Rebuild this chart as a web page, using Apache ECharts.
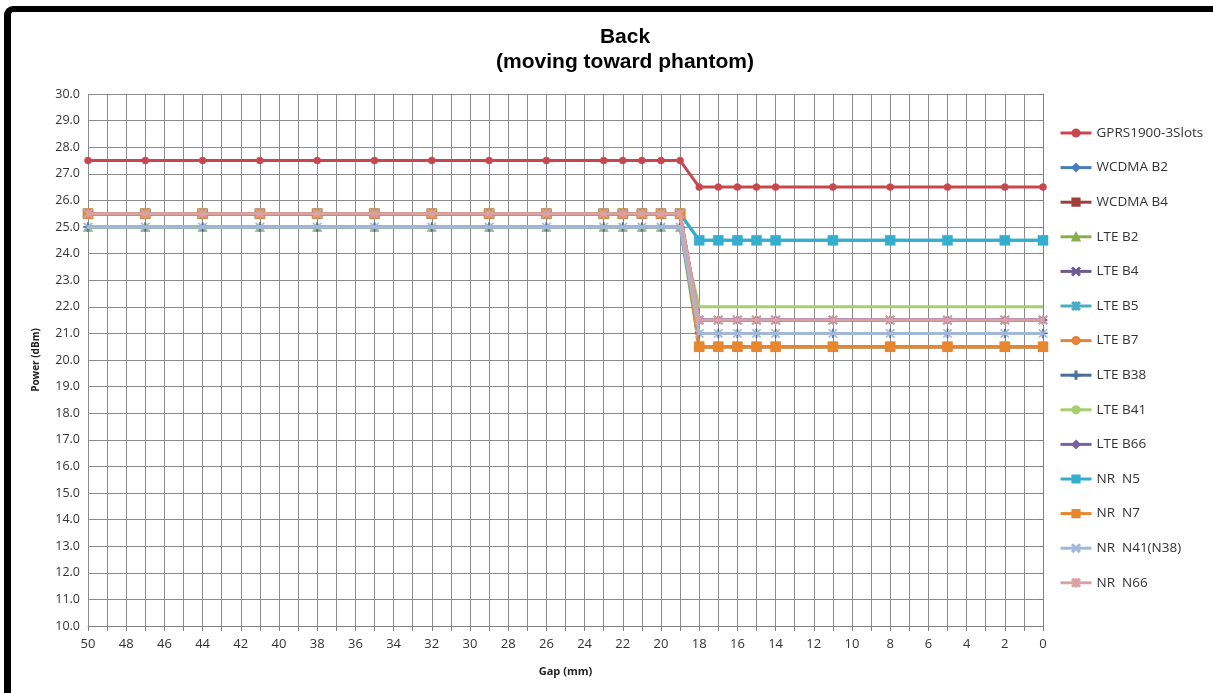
<!DOCTYPE html>
<html>
<head>
<meta charset="utf-8">
<script src="https://cdn.jsdelivr.net/npm/echarts@6/dist/echarts.min.js"></script>
<style>
  html, body { margin: 0; padding: 0; background: #fff; overflow: hidden; }
  #frame { position: absolute; left: 4px; top: 6px; width: 1240px; height: 720px;
           border-top: 6px solid #000; border-left: 7px solid #000; border-top-left-radius: 9px; box-sizing: border-box; }
  #chart { position: absolute; left: 0; top: 0; width: 1213px; height: 693px; }
</style>
</head>
<body>
<div id="frame"></div>
<div id="chart"></div>
<script>
// Gap positions (mm)
const gaps = [50, 47, 44, 41, 38, 35, 32, 29, 26, 23, 22, 21, 20, 19, 18, 17, 16, 15, 14, 11, 8, 5, 2, 0];

// Series values (dBm) for each gap
const gprs1900   = [27.5, 27.5, 27.5, 27.5, 27.5, 27.5, 27.5, 27.5, 27.5, 27.5, 27.5, 27.5, 27.5, 27.5, 26.5, 26.5, 26.5, 26.5, 26.5, 26.5, 26.5, 26.5, 26.5, 26.5];
const wcdmaB2    = [25.5, 25.5, 25.5, 25.5, 25.5, 25.5, 25.5, 25.5, 25.5, 25.5, 25.5, 25.5, 25.5, 25.5, 20.5, 20.5, 20.5, 20.5, 20.5, 20.5, 20.5, 20.5, 20.5, 20.5];
const wcdmaB4    = [25.5, 25.5, 25.5, 25.5, 25.5, 25.5, 25.5, 25.5, 25.5, 25.5, 25.5, 25.5, 25.5, 25.5, 20.5, 20.5, 20.5, 20.5, 20.5, 20.5, 20.5, 20.5, 20.5, 20.5];
const lteB2      = [25.0, 25.0, 25.0, 25.0, 25.0, 25.0, 25.0, 25.0, 25.0, 25.0, 25.0, 25.0, 25.0, 25.0, 20.5, 20.5, 20.5, 20.5, 20.5, 20.5, 20.5, 20.5, 20.5, 20.5];
const lteB4      = [25.5, 25.5, 25.5, 25.5, 25.5, 25.5, 25.5, 25.5, 25.5, 25.5, 25.5, 25.5, 25.5, 25.5, 21.5, 21.5, 21.5, 21.5, 21.5, 21.5, 21.5, 21.5, 21.5, 21.5];
const lteB5      = [25.5, 25.5, 25.5, 25.5, 25.5, 25.5, 25.5, 25.5, 25.5, 25.5, 25.5, 25.5, 25.5, 25.5, 24.5, 24.5, 24.5, 24.5, 24.5, 24.5, 24.5, 24.5, 24.5, 24.5];
const lteB7      = [25.5, 25.5, 25.5, 25.5, 25.5, 25.5, 25.5, 25.5, 25.5, 25.5, 25.5, 25.5, 25.5, 25.5, 20.5, 20.5, 20.5, 20.5, 20.5, 20.5, 20.5, 20.5, 20.5, 20.5];
const lteB38     = [25.0, 25.0, 25.0, 25.0, 25.0, 25.0, 25.0, 25.0, 25.0, 25.0, 25.0, 25.0, 25.0, 25.0, 21.0, 21.0, 21.0, 21.0, 21.0, 21.0, 21.0, 21.0, 21.0, 21.0];
const lteB41     = [25.0, 25.0, 25.0, 25.0, 25.0, 25.0, 25.0, 25.0, 25.0, 25.0, 25.0, 25.0, 25.0, 25.0, 22.0, 22.0, 22.0, 22.0, 22.0, 22.0, 22.0, 22.0, 22.0, 22.0];
const lteB66     = [25.5, 25.5, 25.5, 25.5, 25.5, 25.5, 25.5, 25.5, 25.5, 25.5, 25.5, 25.5, 25.5, 25.5, 21.5, 21.5, 21.5, 21.5, 21.5, 21.5, 21.5, 21.5, 21.5, 21.5];
const nrN5       = [25.5, 25.5, 25.5, 25.5, 25.5, 25.5, 25.5, 25.5, 25.5, 25.5, 25.5, 25.5, 25.5, 25.5, 24.5, 24.5, 24.5, 24.5, 24.5, 24.5, 24.5, 24.5, 24.5, 24.5];
const nrN7       = [25.5, 25.5, 25.5, 25.5, 25.5, 25.5, 25.5, 25.5, 25.5, 25.5, 25.5, 25.5, 25.5, 25.5, 20.5, 20.5, 20.5, 20.5, 20.5, 20.5, 20.5, 20.5, 20.5, 20.5];
const nrN41      = [25.0, 25.0, 25.0, 25.0, 25.0, 25.0, 25.0, 25.0, 25.0, 25.0, 25.0, 25.0, 25.0, 25.0, 21.0, 21.0, 21.0, 21.0, 21.0, 21.0, 21.0, 21.0, 21.0, 21.0];
const nrN66      = [25.5, 25.5, 25.5, 25.5, 25.5, 25.5, 25.5, 25.5, 25.5, 25.5, 25.5, 25.5, 25.5, 25.5, 21.5, 21.5, 21.5, 21.5, 21.5, 21.5, 21.5, 21.5, 21.5, 21.5];

const seriesNames = ['GPRS1900-3Slots', 'WCDMA B2', 'WCDMA B4', 'LTE B2', 'LTE B4', 'LTE B5', 'LTE B7',
                     'LTE B38', 'LTE B41', 'LTE B66', 'NR  N5', 'NR  N7', 'NR  N41(N38)', 'NR  N66'];
const seriesData = [gprs1900, wcdmaB2, wcdmaB4, lteB2, lteB4, lteB5, lteB7, lteB38, lteB41, lteB66, nrN5, nrN7, nrN41, nrN66];

const X_SYM = 'path://M0,1 L1,0 L5,4 L9,0 L10,1 L6,5 L10,9 L9,10 L5,6 L1,10 L0,9 L4,5 Z';
const STAR_SYM = 'path://M0,1 L1,0 L5,4 L9,0 L10,1 L6,5 L10,9 L9,10 L5,6 L1,10 L0,9 L4,5 Z M4.4,0 H5.6 V10 H4.4 Z';
const PLUS_SYM = 'path://M4.3,0 H5.7 V4.3 H10 V5.7 H5.7 V10 H4.3 V5.7 H0 V4.3 H4.3 Z';

const styles = [
  { color: '#C8474F', symbol: 'circle',   size: 7 },
  { color: '#4A7EBB', symbol: 'diamond',  size: 9 },
  { color: '#A0403D', symbol: 'rect',     size: 9 },
  { color: '#8AAE4A', symbol: 'triangle', size: 9 },
  { color: '#6D5A92', symbol: X_SYM,      size: 9 },
  { color: '#4BACC6', symbol: STAR_SYM,   size: 9 },
  { color: '#E8843A', symbol: 'circle',   size: 8 },
  { color: '#4A6E9E', symbol: PLUS_SYM,   size: 9 },
  { color: '#A8CF6E', symbol: 'none',     size: 0 },
  { color: '#7A62A0', symbol: 'diamond',  size: 9 },
  { color: '#34AECF', symbol: 'rect',     size: 10 },
  { color: '#E8862E', symbol: 'rect',     size: 10 },
  { color: '#A3B7D9', symbol: X_SYM,      size: 9 },
  { color: '#D9A3A6', symbol: STAR_SYM,   size: 9 }
];

const chart = echarts.init(document.getElementById('chart'), null, { renderer: 'canvas' });

const series = seriesNames.map((name, i) => ({
  name: name,
  type: 'line',
  data: gaps.map((g, j) => [g, seriesData[i][j]]),
  symbol: styles[i].symbol,
  symbolSize: styles[i].size,
  showSymbol: styles[i].symbol !== 'none',
  lineStyle: { color: styles[i].color, width: 3 },
  itemStyle: { color: styles[i].color, borderColor: styles[i].color, borderWidth: 0.5 },
  z: 2 + i,
  animation: false
}));

const option = {
  backgroundColor: 'transparent',
  animation: false,
  title: {
    text: 'Back\n(moving toward phantom)',
    left: 620,
    textAlign: 'center',
    top: 20,
    textStyle: { fontFamily: 'Liberation Sans Narrow, Liberation Sans, Arial', fontSize: 21, fontWeight: 'bold', color: '#000', lineHeight: 25 }
  },
  legend: {
    orient: 'vertical',
    left: 1059,
    top: 126,
    padding: 0,
    itemWidth: 31,
    itemHeight: 9,
    itemGap: 20.6,
    data: seriesNames,
    lineStyle: { width: 3 },
    textStyle: { fontFamily: 'Open Sans, Noto Sans, sans-serif', fontSize: 13.5, lineHeight: 14, color: '#333' }
  },
  grid: { left: 88, right: 170, top: 94, bottom: 67 },
  xAxis: {
    type: 'value',
    inverse: true,
    min: 0,
    max: 50,
    interval: 1,
    name: 'Gap (mm)',
    nameLocation: 'middle',
    nameGap: 40,
    nameTextStyle: { fontFamily: 'Open Sans, Noto Sans, sans-serif', fontSize: 11, fontWeight: 'bold', color: '#222' },
    axisLine: { lineStyle: { color: '#808080', width: 1 } },
    axisTick: { show: true, length: 5, lineStyle: { color: '#808080' } },
    axisLabel: {
      margin: 12,
      fontFamily: 'Open Sans, Noto Sans, sans-serif', fontSize: 13, color: '#333',
      formatter: v => (v % 2 === 0 ? String(v) : '')
    },
    splitLine: { show: true, lineStyle: { color: '#8C8C8C', width: 1 } }
  },
  yAxis: {
    type: 'value',
    min: 10,
    max: 30,
    interval: 1,
    name: 'Power (dBm)',
    nameLocation: 'middle',
    nameGap: 47,
    nameTextStyle: { fontFamily: 'Open Sans, Noto Sans, sans-serif', fontSize: 10, fontWeight: 'bold', color: '#222' },
    axisLine: { show: true, lineStyle: { color: '#808080', width: 1 } },
    axisTick: { show: true, length: 4, lineStyle: { color: '#808080' } },
    axisLabel: {
      margin: 8,
      fontFamily: 'Open Sans, Noto Sans, sans-serif', fontSize: 12.5, color: '#333',
      formatter: v => v.toFixed(1)
    },
    splitLine: { show: true, lineStyle: { color: '#8C8C8C', width: 1 } }
  },
  series: series
};

chart.setOption(option);
</script>
</body>
</html>
